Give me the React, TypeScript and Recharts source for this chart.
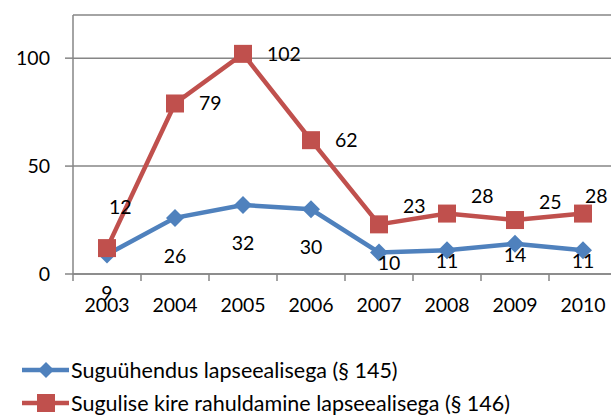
import { LineChart, Line, XAxis, YAxis, CartesianGrid, Legend, LabelList } from 'recharts';

const years = ['2003', '2004', '2005', '2006', '2007', '2008', '2009', '2010'];
const suguyhendus = [9, 26, 32, 30, 10, 11, 14, 11];
const sugulineKire = [12, 79, 102, 62, 23, 28, 25, 28];
const yTicks = [0, 50, 100];
const seriesNames = [
  'Suguühendus lapseealisega (§ 145)',
  'Sugulise kire rahuldamine lapseealisega (§ 146)',
];

const data = years.map((year, i) => ({ year, s145: suguyhendus[i], s146: sugulineKire[i] }));

const BLUE = '#4F81BD';
const RED = '#C0504D';
const GRID = '#868686';
const FONT = 'Lato, "Open Sans", sans-serif';
const FONT_SIZE = 19.5;
const LEGEND_FONT_SIZE = 21.5;

// the plot runs past the right edge of the picture, like in the original
const CHART_W = 640;
const CHART_H = 420;
const PLOT_LEFT = 73;
const PLOT_RIGHT = 617;
const PLOT_TOP = 15;
const PLOT_BOTTOM = 274;
const X_AXIS_H = 40;
const LEGEND_H = 64;
const BAND = (PLOT_RIGHT - PLOT_LEFT) / years.length;

const XTick = ({ x, y, payload }: any) => (
  <g>
    <line x1={x - BAND / 2} y1={y} x2={x - BAND / 2} y2={y + 7} stroke={GRID} strokeWidth={1.5} />
    <text x={x} y={y + 38} textAnchor="middle" fill="#000" fontFamily={FONT} fontSize={FONT_SIZE}>
      {payload.value}
    </text>
  </g>
);

const Diamond = ({ cx, cy }: any) => {
  if (cx == null || cy == null) return null;
  return <polygon points={`${cx},${cy - 9} ${cx + 9},${cy} ${cx},${cy + 9} ${cx - 9},${cy}`} fill={BLUE} />;
};

const Square = ({ cx, cy }: any) => {
  if (cx == null || cy == null) return null;
  return <rect x={cx - 9} y={cy - 9} width={18} height={18} fill={RED} />;
};

// Excel moved the later labels in close to the points
const BlueLabel = ({ x, y, value, index }: any) => {
  const near = index >= 4;
  const dx = index === 4 ? 10 : 0;
  return (
    <text x={x + dx} y={y + (near ? 11 : 38) + 7} textAnchor="middle" fill="#000" fontFamily={FONT} fontSize={FONT_SIZE}>
      {value}
    </text>
  );
};

const RedLabel = ({ x, y, value, index }: any) => {
  let dx = 24;
  let dy = 0;
  if (index === 0) {
    dx = 2;
    dy = -41;
  } else if (index >= 4) {
    dy = -18;
  }
  if (index === years.length - 1) dx = 2;
  return (
    <text x={x + dx} y={y + dy + 7} textAnchor="start" fill="#000" fontFamily={FONT} fontSize={FONT_SIZE}>
      {value}
    </text>
  );
};

const renderLegend = () => (
  <div style={{ position: 'relative', height: LEGEND_H, fontFamily: FONT, fontSize: LEGEND_FONT_SIZE, color: '#000' }}>
    {seriesNames.map((name, i) => (
      <div
        key={name}
        style={{ position: 'absolute', left: 22, top: i * 33, height: 33, display: 'flex', alignItems: 'center', whiteSpace: 'nowrap' }}
      >
        <svg width={47} height={20}>
          <line x1={0} y1={10} x2={47} y2={10} stroke={i === 0 ? BLUE : RED} strokeWidth={4.5} />
          {i === 0 ? (
            <polygon points="24,2 32,10 24,18 16,10" fill={BLUE} />
          ) : (
            <rect x={15} y={1} width={18} height={18} fill={RED} />
          )}
        </svg>
        <span style={{ marginLeft: 2 }}>{name}</span>
      </div>
    ))}
  </div>
);

export default function App() {
  return (
    <div style={{ position: 'absolute', left: 0, top: 0, width: 611, height: 420, overflow: 'hidden', background: '#fff' }}>
      <LineChart
        width={CHART_W}
        height={CHART_H}
        data={data}
        margin={{
          top: PLOT_TOP,
          right: CHART_W - PLOT_RIGHT,
          left: 0,
          bottom: CHART_H - PLOT_BOTTOM - X_AXIS_H - LEGEND_H,
        }}
      >
        <CartesianGrid vertical={false} stroke={GRID} strokeWidth={1.5} />
        <XAxis
          dataKey="year"
          height={X_AXIS_H}
          interval={0}
          padding={{ left: BAND / 2, right: BAND / 2 }}
          axisLine={{ stroke: GRID, strokeWidth: 1.5 }}
          tickLine={false}
          tickSize={0}
          tickMargin={0}
          tick={<XTick />}
        />
        <YAxis
          width={PLOT_LEFT}
          domain={[0, 120]}
          ticks={yTicks}
          allowDataOverflow
          tickSize={8}
          tickMargin={15}
          axisLine={{ stroke: GRID, strokeWidth: 1.5 }}
          tickLine={{ stroke: GRID, strokeWidth: 1.5 }}
          tick={{ fill: '#000', fontFamily: FONT, fontSize: FONT_SIZE }}
        />
        <Legend
          verticalAlign="bottom"
          align="left"
          layout="horizontal"
          content={renderLegend}
          wrapperStyle={{ top: 353, left: 0, bottom: undefined, width: 611, height: LEGEND_H }}
        />
        <Line
          name={seriesNames[0]}
          dataKey="s145"
          stroke={BLUE}
          strokeWidth={4.5}
          dot={<Diamond />}
          activeDot={false}
          isAnimationActive={false}
        >
          <LabelList dataKey="s145" content={<BlueLabel />} />
        </Line>
        <Line
          name={seriesNames[1]}
          dataKey="s146"
          stroke={RED}
          strokeWidth={4.5}
          dot={<Square />}
          activeDot={false}
          isAnimationActive={false}
        >
          <LabelList dataKey="s146" content={<RedLabel />} />
        </Line>
      </LineChart>
    </div>
  );
}
